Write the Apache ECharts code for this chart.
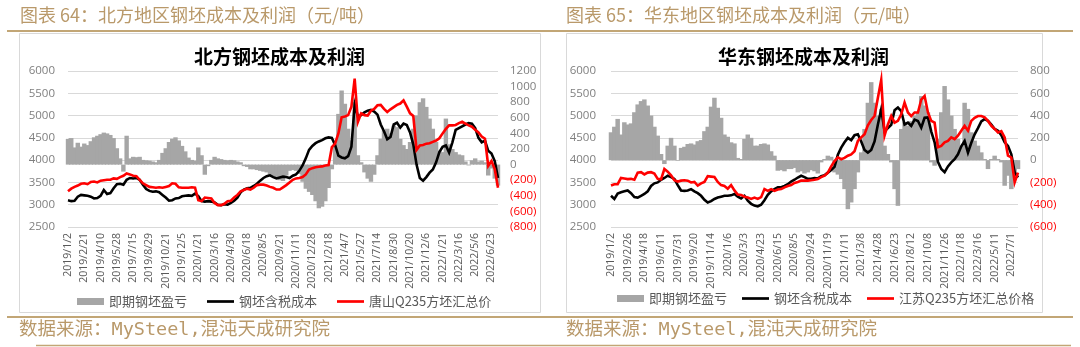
<!DOCTYPE html>
<html><head><meta charset="utf-8">
<script src="https://cdn.jsdelivr.net/npm/echarts@6/dist/echarts.min.js"></script>
<style>html,body{margin:0;padding:0;background:#fff;}#c{width:1080px;height:347px;}</style>
</head><body><div id="c"></div>
<script>
// ---------- North (left) chart ----------
const northTicks = ['2019/1/2','2019/2/21','2019/4/10','2019/5/28','2019/7/15','2019/8/29','2019/10/21','2019/12/5','2020/1/21','2020/3/16','2020/4/30','2020/6/18','2020/8/5','2020/9/21','2020/11/11','2020/12/28','2021/2/18','2021/4/7','2021/5/27','2021/7/14','2021/8/30','2021/10/20','2021/12/6','2022/1/21','2022/3/16','2022/5/6','2022/6/23'];
const northCost = [3100,3080,3090,3180,3220,3210,3200,3180,3140,3150,
3200,3330,3240,3260,3370,3460,3470,3450,3560,3600,
3590,3600,3560,3450,3350,3310,3290,3300,3280,3220,
3160,3090,3100,3140,3150,3190,3200,3210,3200,3250,
3190,3080,3070,3080,3070,3050,3000,2990,3010,3000,
3040,3090,3160,3280,3340,3370,3380,3420,3470,3540,
3600,3640,3660,3620,3590,3610,3630,3620,3600,3650,
3680,3760,3880,4040,4230,4320,4380,4420,4450,4490,
4510,4500,4340,4100,4060,4040,4090,4300,5250,4980,
5010,5070,5110,5130,5090,5020,4800,4650,4470,4520,
4800,4840,4730,4820,4790,4620,4350,3900,3600,3540,
3620,3720,3790,3950,4180,4300,4330,4170,4400,4680,
4720,4760,4800,4830,4820,4720,4500,4400,4440,4210,
4150,3980,3600];
const northPrice = [3300,3360,3400,3430,3470,3480,3460,3510,3520,3500,
3540,3550,3560,3560,3590,3580,3620,3650,3700,3680,
3650,3640,3560,3480,3440,3400,3390,3380,3390,3380,
3400,3420,3480,3470,3390,3380,3380,3380,3390,3380,
3100,3080,3160,3150,3140,3040,2990,2990,3020,3080,
3090,3160,3220,3300,3330,3360,3340,3380,3440,3450,
3450,3430,3400,3380,3340,3340,3390,3440,3500,3560,
3590,3600,3620,3680,3790,3820,3840,3850,3860,3880,
3890,4290,4370,4600,4960,4980,5010,5200,5830,4860,
5050,5010,5000,5110,5150,5230,5240,5150,5080,5140,
5190,5240,5270,5340,5200,5050,4990,4230,4330,4340,
4370,4380,4410,4440,4490,4600,4700,4780,4780,4790,
4830,4860,4820,4780,4750,4680,4620,4530,4480,3870,
3980,3800,3380];
const northProfit = [330,340,220,280,230,270,250,300,350,370,
390,410,400,380,340,210,80,-90,370,80,
100,95,100,60,55,50,40,30,60,150,
210,290,330,350,310,240,170,90,60,50,
220,120,-130,-20,60,100,80,70,60,55,
60,55,40,30,-20,-30,-60,-60,-70,-80,
-90,-100,-140,-150,-160,-200,-210,-140,-80,-70,
-80,-120,-220,-310,-350,-390,-470,-560,-540,-470,
-300,-60,300,650,950,780,460,310,800,120,
30,-100,-180,-220,-130,120,330,440,460,400,
500,480,330,250,200,290,460,630,800,850,
740,590,460,290,180,160,590,260,200,160,
130,120,40,-10,55,80,40,50,30,-140,
-50,-180,-270];

// ---------- East (right) chart ----------
const eastTicks = ['2019/1/2','2019/2/26','2019/4/18','2019/6/11','2019/7/31','2019/9/20','2019/11/14','2020/1/6','2020/3/3','2020/4/23','2020/6/15','2020/8/5','2020/9/24','2020/11/19','2021/1/11','2021/3/8','2021/4/28','2021/6/23','2021/8/12','2021/10/8','2021/11/26','2022/1/18','2022/3/16','2022/5/11','2022/7/1'];
const eastCost = [3200,3130,3250,3280,3300,3320,3260,3170,3160,3200,
3240,3300,3420,3480,3500,3560,3600,3650,3620,3580,
3440,3320,3310,3320,3350,3300,3260,3200,3110,3050,
3080,3130,3160,3180,3200,3200,3210,3240,3180,3140,
3200,3090,3020,2980,2965,3000,3100,3220,3300,3350,
3390,3390,3420,3460,3520,3560,3610,3650,3620,3580,
3580,3600,3590,3640,3660,3720,3780,3850,4120,4280,
4400,4500,4450,4560,4580,4420,4230,4170,4230,4420,
4800,5140,4650,4720,4790,5120,5180,5100,4800,4840,
4770,4910,4880,4730,4950,4960,4640,4400,3960,3800,
3730,3860,3950,4020,4130,4310,4430,4170,4390,4580,
4720,4870,4920,4880,4800,4700,4660,4560,4400,4320,
4130,3730,3610];
const eastPrice = [3430,3460,3460,3600,3590,3575,3580,3560,3720,3730,
3680,3720,3730,3700,3580,3570,3800,3740,3660,3550,
3520,3540,3550,3540,3500,3510,3430,3480,3510,3640,
3630,3620,3510,3440,3420,3360,3440,3320,3230,3220,
3180,3160,3130,3160,3130,3170,3350,3310,3350,3310,
3340,3350,3390,3420,3440,3490,3510,3540,3540,3540,
3550,3560,3575,3620,3650,3720,3860,3980,4060,4020,
4050,4100,4130,4200,4430,4510,4580,4780,4900,4990,
5400,5800,4550,4800,4990,4840,4880,5030,5290,5070,
4990,5070,5070,5360,5440,5070,4880,4840,4290,4320,
4400,4430,4510,4470,4550,4660,4770,4660,4880,4950,
4990,4990,4960,4880,4770,4700,4620,4650,4510,4100,
4060,3500,3720];
const eastProfit = [250,300,370,230,340,320,330,430,500,530,
545,490,400,300,220,55,-35,130,200,130,
-5,110,120,145,150,140,170,180,260,300,
480,560,470,380,230,210,160,150,20,10,
190,230,200,130,130,145,150,140,80,40,
-95,-90,-100,-80,-80,-70,-110,-100,-120,-110,
-90,-100,-120,-20,10,40,30,-110,-130,-170,
-260,-440,-380,-260,-110,70,280,515,700,515,
400,460,130,55,-20,-260,-410,280,340,310,
350,400,430,575,490,430,-20,-50,190,430,
665,545,400,280,190,130,515,460,250,175,
130,70,10,-80,10,40,10,-20,-230,-140,
-260,-110,-80];

const STEP = 5; // data points per labelled tick
function buildCats(ticks, n) {
  const c = [];
  for (let i = 0; i < n; i++) c.push(i % STEP === 0 ? (ticks[i / STEP] || '') : '');
  return c;
}
const northCats = buildCats(northTicks, northCost.length);
const eastCats = buildCats(eastTicks, eastCost.length);

const TAN = '#b9996a';
const LINE_TAN = '#c2a676';
const YLAB = '#7f7f7f';
const CJK = '"Noto Sans CJK SC", sans-serif';
const NUM = '"Open Sans", "Noto Sans", sans-serif';
const LINE_ICON = 'path://M0 0H30V3H0Z';

function xAxis(gi, cats) {
  return { type: 'category', gridIndex: gi, data: cats, boundaryGap: false,
    axisLine: { show: false }, axisTick: { show: false }, splitLine: { show: false },
    axisLabel: { interval: STEP - 1, rotate: 90, margin: 6, color: '#595959', fontFamily: NUM, fontSize: 10.5 } };
}
function leftY(gi, margin) {
  return { type: 'value', gridIndex: gi, position: 'left', min: 2500, max: 6000, interval: 500,
    axisLine: { show: false }, axisTick: { show: false },
    splitLine: { show: true, lineStyle: { color: '#d9d9d9', width: 1 } },
    axisLabel: { margin: margin, color: YLAB, fontFamily: NUM, fontSize: 11.5, formatter: v => String(v) } };
}
function rightY(gi, min, max) {
  return { type: 'value', gridIndex: gi, position: 'right', min: min, max: max, interval: 200,
    axisLine: { show: false }, axisTick: { show: false }, splitLine: { show: false },
    axisLabel: { margin: 12, fontFamily: NUM, fontSize: 11.5,
      formatter: v => (Number(v) < 0 ? '(' + Math.abs(v) + ')' : String(v)),
      color: v => (Number(v) < 0 ? '#ff0000' : YLAB) } };
}
function legendCfg(left, top, gap, redName) {
  return { left: left, top: top, itemWidth: 27, itemHeight: 7, itemGap: gap, padding: 0,
    data: [{ name: '即期钢坯盈亏', icon: 'rect' },
           { name: '钢坯含税成本', icon: LINE_ICON },
           { name: redName, icon: LINE_ICON }],
    textStyle: { fontFamily: CJK, fontSize: 13, color: '#595959' } };
}
const ttl = (text, left, top, size, weight, color, family) => ({
  text: text, left: left, top: top, padding: 0,
  textStyle: { fontFamily: family || CJK, fontSize: size, fontWeight: weight, color: color } });
const ln = (x1, y1, x2, y2, w, c) => ({ type: 'line', silent: true,
  shape: { x1: x1, y1: y1, x2: x2, y2: y2 }, style: { stroke: c, lineWidth: w } });
const box = (x, y, w, h) => ({ type: 'rect', silent: true,
  shape: { x: x, y: y, width: w, height: h }, style: { fill: null, stroke: '#d9d9d9', lineWidth: 1 } });
const lineSeries = (name, xi, yi, data, color) => ({
  name: name, type: 'line', xAxisIndex: xi, yAxisIndex: yi, data: data,
  symbol: 'none', showSymbol: false, smooth: false, z: color === '#ff0000' ? 3 : 2,
  lineStyle: { color: color, width: 2.6, join: 'miter' }, itemStyle: { color: color } });
const barSeries = (xi, yi, data, w) => ({
  name: '即期钢坯盈亏', type: 'bar', xAxisIndex: xi, yAxisIndex: yi, data: data,
  barWidth: w, barCategoryGap: '0%', itemStyle: { color: '#a6a6a6', borderWidth: 0 }, z: 1 });

const chart = echarts.init(document.getElementById('c'), null, { renderer: 'canvas' });
chart.setOption({
  animation: false,
  backgroundColor: '#ffffff',
  title: [
    ttl('图表 64：北方地区钢坯成本及利润（元/吨）', 20, 6, 18, 'normal', TAN),
    ttl('图表 65：华东地区钢坯成本及利润（元/吨）', 566, 6, 18, 'normal', TAN),
    ttl('北方钢坯成本及利润', 194, 47, 19, 'bold', '#000000'),
    ttl('华东钢坯成本及利润', 718, 47, 19, 'bold', '#000000'),
    ttl('数据来源：MySteel,混沌天成研究院', 19, 321, 18.5, 'normal', TAN, '"DejaVu Sans Mono", "Noto Sans CJK SC", monospace'),
    ttl('数据来源：MySteel,混沌天成研究院', 566, 321, 18.5, 'normal', TAN, '"DejaVu Sans Mono", "Noto Sans CJK SC", monospace')
  ],
  graphic: [
    ln(7, 31, 1073, 31, 2, LINE_TAN),
    ln(7, 317, 1073, 317, 2, LINE_TAN),
    ln(36, 345.5, 1071, 345.5, 1.5, LINE_TAN),
    box(19.5, 33.5, 521, 279),
    box(566.5, 33.5, 476, 279)
  ],
  legend: [
    legendCfg(77, 295, 20, '唐山Q235方坯汇总价'),
    legendCfg(617, 292, 15, '江苏Q235方坯汇总价格')
  ],
  grid: [
    { left: 68, top: 71, width: 430, height: 156, containLabel: false, outerBoundsMode: 'none' },
    { left: 611, top: 71, width: 407, height: 156, containLabel: false, outerBoundsMode: 'none' }
  ],
  xAxis: [xAxis(0, northCats), xAxis(1, eastCats)],
  yAxis: [leftY(0, 13), rightY(0, -800, 1200), leftY(1, 15), rightY(1, -600, 800)],
  series: [
    barSeries(0, 1, northProfit, 4.4),
    lineSeries('钢坯含税成本', 0, 0, northCost, '#000000'),
    lineSeries('唐山Q235方坯汇总价', 0, 0, northPrice, '#ff0000'),
    barSeries(1, 3, eastProfit, 4.5),
    lineSeries('钢坯含税成本', 1, 2, eastCost, '#000000'),
    lineSeries('江苏Q235方坯汇总价格', 1, 2, eastPrice, '#ff0000')
  ]
});
</script></body></html>
